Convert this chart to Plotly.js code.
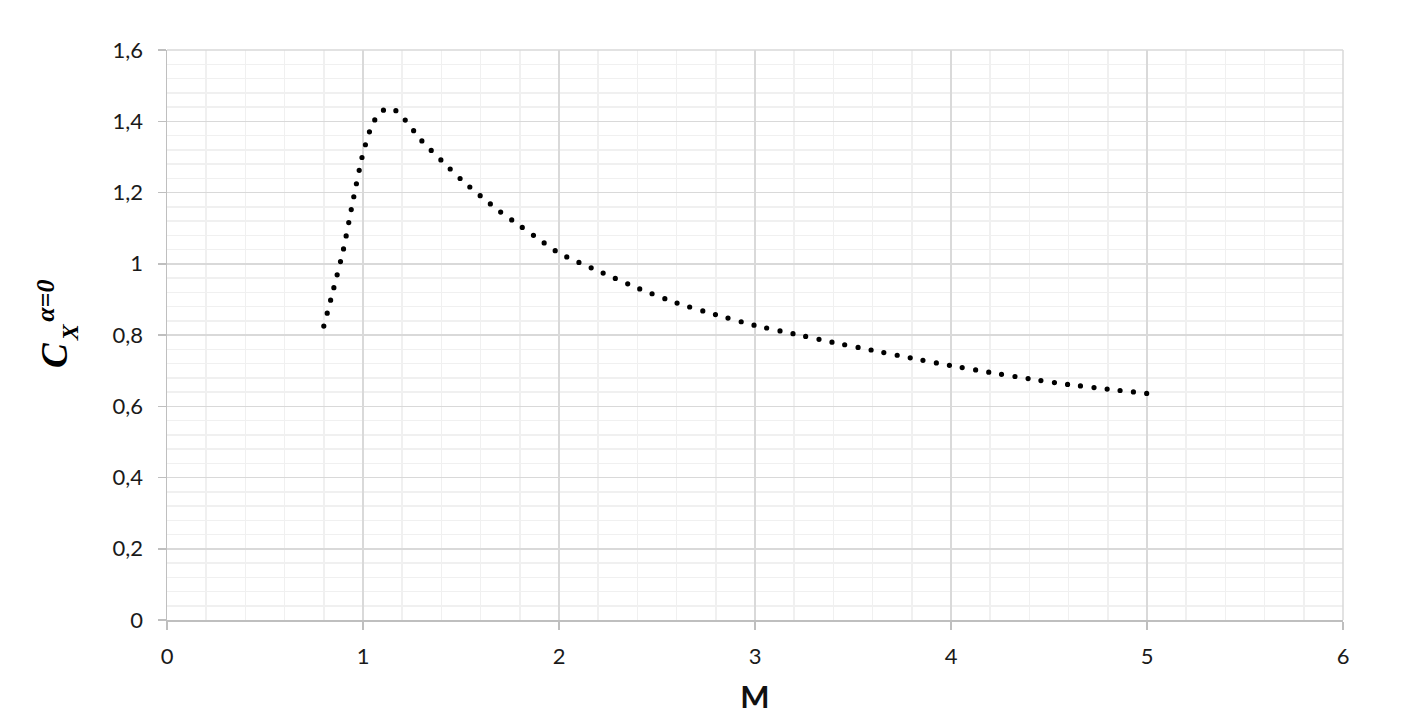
<!DOCTYPE html>
<html>
<head>
<meta charset="utf-8">
<script src="https://cdn.plot.ly/plotly-3.0.1.min.js"></script>
<style>
html,body{margin:0;padding:0;background:#fff;}
#chart{width:1420px;height:725px;}
</style>
</head>
<body>
<div id="chart"></div>
<script>
// Mach number
const machValues = [0.8, 0.85, 0.9, 0.95, 1.0, 1.05, 1.1, 1.15, 1.2, 1.3, 1.4, 1.5, 1.6, 1.7, 1.8, 1.9, 2.0, 2.2, 2.4, 2.6, 2.8, 3.0, 3.2, 3.4, 3.6, 3.8, 4.0, 4.2, 4.4, 4.6, 4.8, 5.0];
// Drag coefficient at zero angle of attack
const cxValues = [0.825, 0.93, 1.04, 1.18, 1.31, 1.395, 1.43, 1.436, 1.413, 1.345, 1.29, 1.237, 1.19, 1.146, 1.107, 1.068, 1.03, 0.98, 0.932, 0.89, 0.857, 0.827, 0.803, 0.779, 0.757, 0.735, 0.714, 0.695, 0.677, 0.661, 0.648, 0.636];
const xTitle = 'M';
const yTitleMain = 'C';
const yTitleSub = 'X';
const yTitleSup = 'α=0';

const trace = {
  x: machValues,
  y: cxValues,
  type: 'scatter',
  mode: 'lines',
  line: {color: '#000000', width: 5.2, dash: '0px,13.3px', shape: 'spline', smoothing: 0.6},
  hoverinfo: 'x+y'
};

const tickFont = {family: 'Lato, "Open Sans", sans-serif', size: 22, color: '#1a1a1a'};
const serifFont = 'Liberation Serif, "DejaVu Serif", serif';

const layout = {
  width: 1420,
  height: 725,
  margin: {l: 167, r: 77, t: 50, b: 105},
  paper_bgcolor: '#ffffff',
  plot_bgcolor: '#ffffff',
  separators: ',.',
  showlegend: false,
  xaxis: {
    range: [0, 6],
    dtick: 1,
    tick0: 0,
    showgrid: true,
    gridcolor: '#d9d9d9',
    gridwidth: 1.5,
    zeroline: false,
    showline: true,
    linecolor: '#bfbfbf',
    linewidth: 1.5,
    ticks: 'outside',
    ticklen: 8,
    tickwidth: 1.5,
    tickcolor: '#bfbfbf',
    tickfont: tickFont,
    ticklabelstandoff: 8,
    minor: {dtick: 0.2, showgrid: true, gridcolor: '#f0f0f0', gridwidth: 1.5, ticks: ''},
    title: {text: '<b>' + xTitle + '</b>', font: {family: 'Lato, "Open Sans", sans-serif', size: 31, color: '#111'}, standoff: 18},
    fixedrange: true
  },
  yaxis: {
    range: [0, 1.6],
    dtick: 0.2,
    tick0: 0,
    showgrid: true,
    gridcolor: '#d9d9d9',
    gridwidth: 1.5,
    zeroline: false,
    showline: true,
    linecolor: '#bfbfbf',
    linewidth: 1.5,
    ticks: 'outside',
    ticklen: 8,
    tickwidth: 1.5,
    tickcolor: '#bfbfbf',
    tickfont: tickFont,
    ticklabelstandoff: 10,
    minor: {dtick: 0.04, showgrid: true, gridcolor: '#f0f0f0', gridwidth: 1.5, ticks: ''},
    fixedrange: true
  },
  shapes: [
    {type: 'line', xref: 'paper', yref: 'paper', x0: 0, x1: 1, y0: 1, y1: 1, line: {color: '#d9d9d9', width: 1.5}},
    {type: 'line', xref: 'paper', yref: 'paper', x0: 1, x1: 1, y0: 0, y1: 1, line: {color: '#d9d9d9', width: 1.5}}
  ],
  annotations: [
    {xref: 'paper', yref: 'paper', x: 0, y: 0.465, xshift: -112, xanchor: 'center', yanchor: 'middle', textangle: -90, showarrow: false,
     text: '<b><i>' + yTitleMain + '</i></b>', font: {family: serifFont, size: 37, color: '#000'}},
    {xref: 'paper', yref: 'paper', x: 0, y: 0.505, xshift: -97, xanchor: 'center', yanchor: 'middle', textangle: -90, showarrow: false,
     text: '<b><i>' + yTitleSub + '</i></b>', font: {family: serifFont, size: 24, color: '#000'}},
    {xref: 'paper', yref: 'paper', x: 0, y: 0.56, xshift: -121, xanchor: 'center', yanchor: 'middle', textangle: -90, showarrow: false,
     text: '<b><i>' + yTitleSup + '</i></b>', font: {family: serifFont, size: 26, color: '#000'}}
  ]
};

function roundDots() {
  document.querySelectorAll('#chart .scatterlayer path.js-line').forEach(p => {
    p.style.strokeLinecap = 'round';
    p.style.strokeDasharray = '0px,13.3px';
  });
}

Plotly.newPlot('chart', [trace], layout, {displayModeBar: false, staticPlot: true}).then(gd => {
  roundDots();
  gd.on('plotly_afterplot', roundDots);
});
</script>
</body>
</html>
